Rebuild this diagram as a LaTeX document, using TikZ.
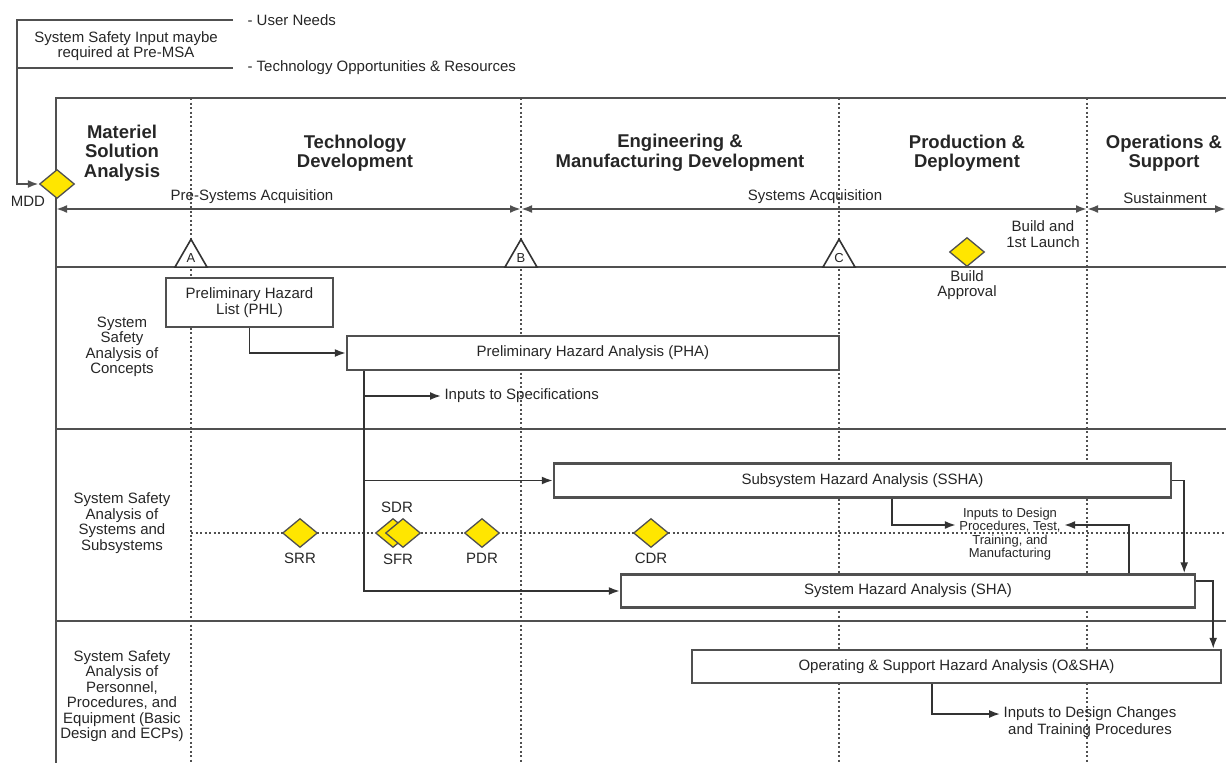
\documentclass[tikz,border=0pt]{standalone}
\usepackage{fontspec}
\setmainfont{Liberation Sans}
\usetikzlibrary{shapes.geometric,arrows.meta,calc}
\definecolor{linegray}{HTML}{505050}
\definecolor{txt}{HTML}{262626}
\definecolor{msyellow}{HTML}{FFE600}
\begin{document}
\begin{tikzpicture}[x=1pt,y=-1pt,
  every node/.style={text=txt, font=\fontsize{15}{15.5}\selectfont},
  frameline/.style={draw=linegray, line width=2.5pt},
  dotline/.style={draw=linegray, line width=1.5pt, dash pattern=on 2pt off 2.5pt},
  anbox/.style={draw=linegray, line width=2.4pt, fill=white, rectangle, inner sep=0pt, align=center},
  conn/.style={draw=black!80, line width=1.8pt, -{Latex[length=11pt,width=8pt]}},
  dconn/.style={draw=linegray, line width=2.3pt, {Latex[length=11pt,width=8pt]}-{Latex[length=11pt,width=8pt]}},
  plainline/.style={draw=linegray, line width=2.3pt},
  ms/.style={diamond, fill=msyellow, draw=linegray, line width=1.3pt, minimum width=35pt, minimum height=29pt, inner sep=0pt},
  gate/.style={regular polygon, regular polygon sides=3, draw=black!80, line width=1.6pt, fill=white, minimum size=37pt, inner sep=0pt, font=\fontsize{13}{13}\selectfont},
  phase/.style={align=center, font=\bfseries\fontsize{18.5}{19.5}\selectfont, text=black!85},
  lane/.style={align=center},
  small/.style={align=center, font=\fontsize{13}{13.5}\selectfont},
]
\useasboundingbox (0,0) rectangle (1226,763);

% dotted phase boundaries and review line
\coordinate (dA1) at (191,98);  \coordinate (dA2) at (191,763);
\coordinate (dB1) at (521,98);  \coordinate (dB2) at (521,763);
\coordinate (dC1) at (839,98);  \coordinate (dC2) at (839,763);
\coordinate (dE1) at (1087,98); \coordinate (dE2) at (1087,763);
\draw[dotline] (dA1) -- (dA2);
\draw[dotline] (dB1) -- (dB2);
\draw[dotline] (dC1) -- (dC2);
\draw[dotline] (dE1) -- (dE2);
\coordinate (rv1) at (191,533); \coordinate (rv2) at (1226,533);
\draw[dotline] (rv1) -- (rv2);

% frame
\coordinate (f1) at (56,98);   \coordinate (f2) at (1226,98);
\coordinate (f3) at (56,763);
\coordinate (g1) at (56,267);  \coordinate (g2) at (1226,267);
\coordinate (h1) at (56,429);  \coordinate (h2) at (1226,429);
\coordinate (k1) at (56,621);  \coordinate (k2) at (1226,621);
\draw[frameline] (f2) -- (f1) -- (f3);
\draw[frameline] (g1) -- (g2);
\draw[frameline] (h1) -- (h2);
\draw[frameline] (k1) -- (k2);

% top-left note
\node[lane] (ssinput) at (126,46) {System Safety Input maybe\\required at Pre-MSA};
\node[anchor=west] (userneeds) at (244,20) {- User Needs};
\node[anchor=west] (techopp) at (244,68) {- Technology Opportunities \& Resources};
\coordinate (un) at (233,20);
\coordinate (to) at (233,68);
\coordinate (tl) at (17,20);
\coordinate (ml) at (17,68);
\node[ms] (MDD) at (57,184) {};
\node (mddlbl) at (28,201) {MDD};
\draw[conn, draw=linegray, line width=2.3pt] (un) -- (tl) |- (MDD.west);
\draw[plainline] (ml) -- (to);

% phases
\node[phase] (msa) at (122,153) {Materiel\\Solution\\Analysis};
\node[phase] (td) at (355,153) {Technology\\Development};
\node[phase] (emd) at (680,153) {Engineering \&\\Manufacturing Development};
\node[phase] (pd) at (967,153) {Production \&\\Deployment};
\node[phase] (os) at (1164,153) {Operations \&\\Support};

% acquisition timeline
\coordinate (t0) at (56,209);
\coordinate (tB) at (521,209);
\coordinate (tE) at (1087,209);
\coordinate (tR) at (1226,209);
\draw[dconn] (t0) -- (tB);
\draw[dconn] (tB) -- (tE);
\draw[dconn] (tE) -- (tR);
\node (presys) at (252,197) {Pre-Systems Acquisition};
\node (sysacq) at (815,197) {Systems Acquisition};
\node (sust) at (1165,198) {Sustainment};
\node[lane] (launch) at (1043,234) {Build and\\1st Launch};

% milestones
\node[gate] (A) at (191,257.8) {A};
\node[gate] (B) at (521,257.8) {B};
\node[gate] (C) at (839,257.8) {C};
\node[ms] (BA) at (967,252) {};
\node[lane] (balbl) at (967,285) {Build\\Approval};

% lane labels
\node[lane] (lane1) at (122,347) {System\\Safety\\Analysis of\\Concepts};
\node[lane] (lane2) at (122,523) {System Safety\\Analysis of\\Systems and\\Subsystems};
\node[lane] (lane3) at (122,696) {System Safety\\Analysis of\\Personnel,\\Procedures, and\\Equipment (Basic\\Design and ECPs)};

% analyses
\node[anbox, minimum width=167pt, minimum height=49pt] (PHL) at (249.5,302.5) {Preliminary Hazard\\List (PHL)};
\node[anbox, minimum width=492pt, minimum height=34pt] (PHA) at (593,353) {Preliminary Hazard Analysis (PHA)};
\node[anbox, minimum width=617pt, minimum height=34pt] (SSHA) at (862.5,480.5) {Subsystem Hazard Analysis (SSHA)};
\node[anbox, minimum width=574pt, minimum height=33pt] (SHA) at (908,591) {System Hazard Analysis (SHA)};
\node[anbox, minimum width=529pt, minimum height=33pt] (OSHA) at (956.5,666.5) {Operating \& Support Hazard Analysis (O\&SHA)};

% outputs
\node[anchor=west] (specs) at (441,396) {Inputs to Specifications};
\node[small] (design) at (1010,534) {Inputs to Design\\Procedures, Test,\\Training, and\\Manufacturing};
\node[lane, font=\fontsize{15}{16.5}\selectfont] (changes) at (1090,722) {Inputs to Design Changes\\and Training Procedures};

% reviews
\node[ms] (SRR) at (300,533) {};
\node[ms] (SDR) at (393,533) {};
\node[ms] (SFR) at (403,533) {};
\node[ms] (PDR) at (482,533) {};
\node[ms] (CDR) at (651,533) {};
\node (srrl) at (300,558) {SRR};
\node (sdrl) at (397,507) {SDR};
\node (sfrl) at (398,559) {SFR};
\node (pdrl) at (482,558) {PDR};
\node (cdrl) at (651,558) {CDR};

% connectors
\coordinate (trunk) at ($(PHA.south west)+(18,0)$);
\draw[conn] (PHL.south) |- (PHA.west);
\draw[conn] (trunk) |- (specs.west);
\draw[conn] (trunk) |- (SSHA.west);
\draw[conn] (trunk) |- (SHA.west);
\draw[conn] ($(SSHA.south west)+(339,0)$) |- ($(design.west)+(0,-9)$);
\draw[conn] ($(SHA.north west)+(509,0)$) |- ($(design.east)+(0,-9)$);
\draw[conn] (SSHA.east) -| ($(SHA.north east)+(-12,0)$);
\draw[conn] ($(SHA.north east)+(0,8)$) -| ($(OSHA.north east)+(-9,0)$);
\draw[conn] ($(OSHA.south west)+(241,0)$) |- ($(changes.west)+(0,-8)$);
\end{tikzpicture}
\end{document}
